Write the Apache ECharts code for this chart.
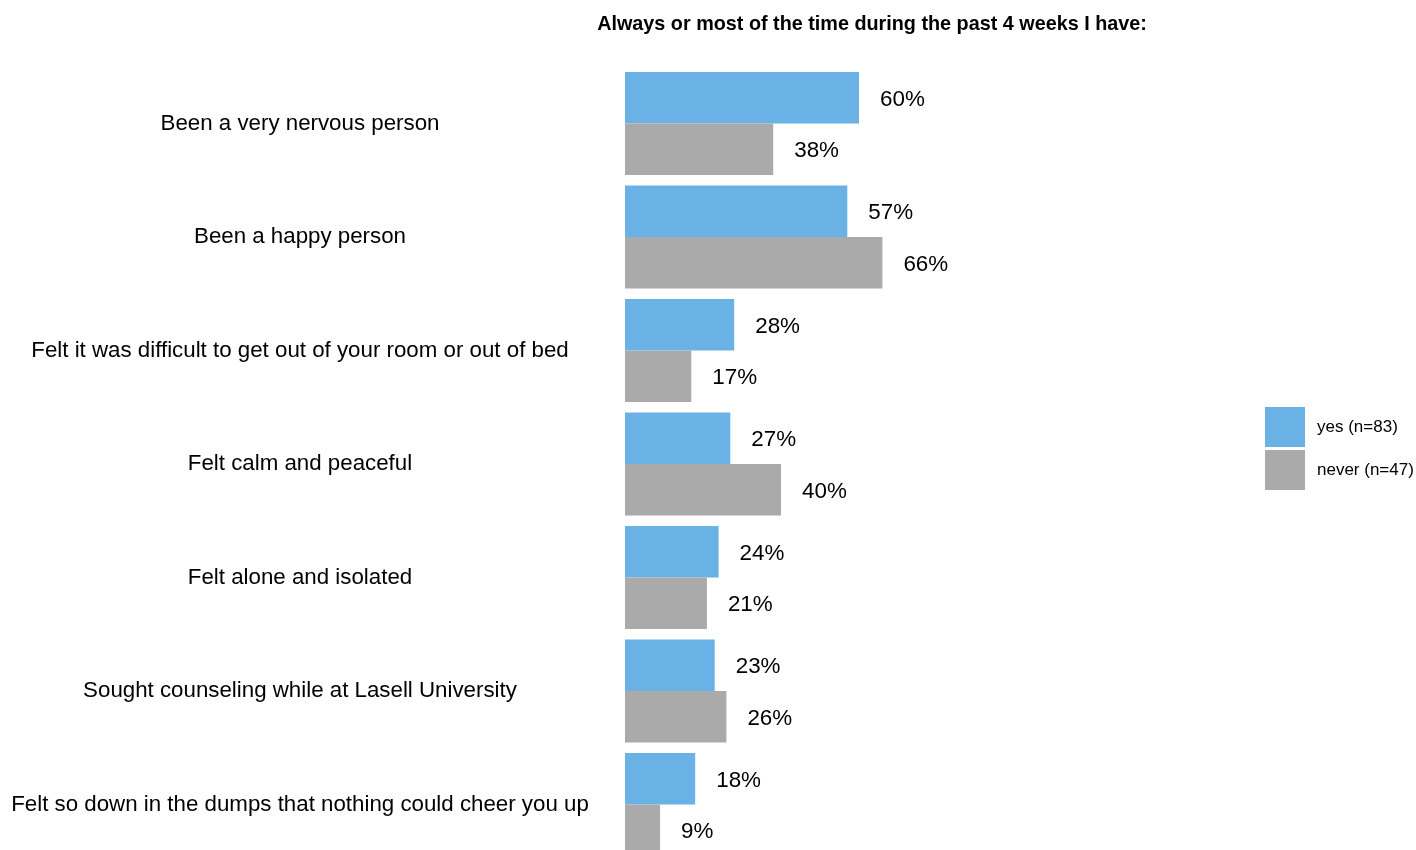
<!DOCTYPE html>
<html>
<head>
<meta charset="utf-8">
<script src="https://cdn.jsdelivr.net/npm/echarts@6/dist/echarts.min.js"></script>
<style>html,body{margin:0;padding:0;background:#fff;}#c{width:1416px;height:850px;}</style>
</head>
<body>
<div id="c"></div>
<script>
const categories = [
  "Been a very nervous person",
  "Been a happy person",
  "Felt it was difficult to get out of your room or out of bed",
  "Felt calm and peaceful",
  "Felt alone and isolated",
  "Sought counseling while at Lasell University",
  "Felt so down in the dumps that nothing could cheer you up"
];
const yesValues = [60, 57, 28, 27, 24, 23, 18];
const neverValues = [38, 66, 17, 40, 21, 26, 9];
const seriesNames = ["yes (n=83)", "never (n=47)"];
const titleText = "Always or most of the time during the past 4 weeks I have:";

const chart = echarts.init(document.getElementById('c'), null, {renderer: 'canvas'});
const FONT = "'Liberation Sans', Arial, sans-serif";
const labelCfg = {
  show: true, position: 'right', distance: 21, offset: [0, 2],
  formatter: p => p.value + '%',
  color: '#000', fontSize: 22.4, fontFamily: FONT
};
chart.setOption({
  animation: false,
  backgroundColor: '#fff',
  title: {
    text: titleText, left: 867, top: 10, textAlign: 'center',
    textStyle: {fontSize: 19.8, fontWeight: 'bold', color: '#000', fontFamily: FONT}
  },
  legend: {
    orient: 'vertical', left: 1260, top: 402,
    itemWidth: 40, itemHeight: 40, itemGap: 3,
    icon: 'rect',
    textStyle: {fontSize: 17, color: '#000', fontFamily: FONT, padding: [6,0,0,7]},
    data: seriesNames
  },
  grid: {left: 625, top: 66.75, width: 390, height: 794.5, containLabel: false, outerBoundsMode: 'none'},
  xAxis: {
    type: 'value', min: 0, max: 100, show: false
  },
  yAxis: {
    type: 'category', data: categories, inverse: true,
    axisLine: {show: false}, axisTick: {show: false}, splitLine: {show: false},
    axisLabel: {
      align: 'center', margin: 325, fontSize: 22.3, color: '#000', fontFamily: FONT,
      padding: [2, 0, 0, 0]
    }
  },
  series: [
    {
      name: seriesNames[0], type: 'bar', data: yesValues,
      barGap: '0%', barCategoryGap: '9.2%',
      itemStyle: {color: '#6AB2E5'}, label: labelCfg
    },
    {
      name: seriesNames[1], type: 'bar', data: neverValues,
      itemStyle: {color: '#AAAAAA'}, label: labelCfg
    }
  ]
});
</script>
</body>
</html>
